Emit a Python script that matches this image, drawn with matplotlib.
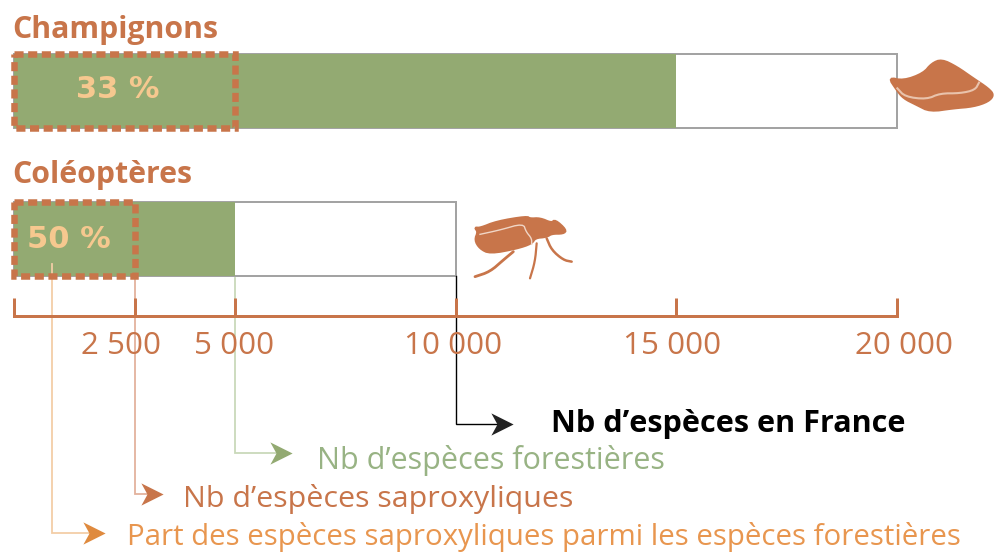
import matplotlib
matplotlib.use("Agg")
import matplotlib.pyplot as plt
from matplotlib.patches import Rectangle, Polygon
from matplotlib.transforms import ScaledTranslation

# ---- data ----
categories = ["Champignons", "Coléoptères"]
total_species = [20000, 10000]
forest_species = [15000, 5000]
saprox_species = [5000, 2740]      # as positioned in the picture
percent_labels = ["33 %", "50 %"]
percent_x = [2355, 1250]
tick_values = [0, 2740, 5000, 10000, 15000, 20000]
tick_labels = ["", "2 500", "5 000", "10 000", "15 000", "20 000"]
tick_label_shift = [0, -14, -1, -2, -4, 7]
part_x = 860
legend_texts = ["Nb d’espèces en France", "Nb d’espèces forestières",
                "Nb d’espèces saproxyliques",
                "Part des espèces saproxyliques parmi les espèces forestières"]

mushroom = [(85,112),(130,122),(190,100),(215,70),(245,58),(290,80),(340,115),(385,145),(402,165),
            (385,185),(340,200),(280,205),(210,215),(170,195),(130,175),(110,150)]
mushroom_vein = [(112,145),(135,170),(200,178),(240,160),(300,160),(345,150),(357,128)]
beetle = [(105,98),(120,100),(170,80),(260,65),(270,72),(300,70),(335,85),(345,75),(378,105),(370,115),(335,115),
          (320,125),(285,128),(275,145),(230,160),(150,175),(120,160),(105,135),(115,110)]
beetle_veins = [[(120,118),(180,105),(250,85),(258,110),(275,130),(275,148)]]
beetle_legs = [[(220,170),(190,195),(150,230),(105,245)],
               [(290,145),(285,200),(270,250)],
               [(320,130),(335,165),(370,195),(395,200)]]

# ---- colours ----
BROWN = "#C8754A"
GREEN = "#93AA72"
GREY = "#A3A3A3"
PEACH = "#F6C88F"

W, H = 994, 552
fig = plt.figure(figsize=(W / 100, H / 100), dpi=100, facecolor="white")
ax = fig.add_axes([0, 0, 1, 1], facecolor="none")
scale = 883 / 20000
ax.set_xlim(-14 / scale, (W - 14) / scale)
ax.set_ylim(H, 0)
for s in ["top", "left", "right"]:
    ax.spines[s].set_visible(False)
ax.yaxis.set_visible(False)
ax.set_axisbelow(False)

def X(px):
    return (px - 14) / scale

FONT = "Open Sans"
pt = 72 / 100

# axis
ax.spines["bottom"].set_position(("data", 316))
ax.spines["bottom"].set_bounds(0, 20000)
ax.spines["bottom"].set_color(BROWN)
ax.spines["bottom"].set_linewidth(3 * pt)
ax.set_xticks(tick_values)
ax.set_xticklabels(tick_labels, fontfamily=FONT, fontsize=22.6, color=BROWN)
ax.tick_params(axis="x", direction="in", length=18 * pt, width=3 * pt, color=BROWN, pad=11)
for lab, dx in zip(ax.get_xticklabels(), tick_label_shift):
    lab.set_transform(lab.get_transform() + ScaledTranslation(dx / 100, 0, fig.dpi_scale_trans))

# bars
tops = [54, 202]
title_y = [30, 175]
pct_y = [90, 239]
h = 74
for i, cat in enumerate(categories):
    y = tops[i]
    ax.add_patch(Rectangle((0, y), total_species[i], h, fc="white", ec=GREY, lw=2 * pt, zorder=1))
    ax.add_patch(Rectangle((0, y), forest_species[i], h, fc=GREEN, ec="none", zorder=1.1))
    ax.add_patch(Rectangle((0, y), saprox_species[i], h, fc="none", ec=BROWN, lw=6.5 * pt,
                           linestyle=(0, (1.4, 0.7)), zorder=5))
    ax.text(X(12), title_y[i], cat, family=FONT, weight="bold", fontsize=21.8, color=BROWN, va="center", ha="left")
    ax.text(percent_x[i], pct_y[i], percent_labels[i], family="DejaVu Sans", weight="bold", fontsize=22,
            color=PEACH, va="center", ha="center", zorder=6)

# leader lines
stealth = [(-1, 1), (1, 0), (-1, -1), (-0.45, 0), (-1, 1)]
leaders = [
    (total_species[1], 276, 424, 510, "black", "#222222", "black", 551, 424, "bold", 22.1),
    (forest_species[1], 278, 453, 289, "#C9D9B9", GREEN, "#98B384", 317, 460, "normal", 22),
    (saprox_species[1], 278, 494, 160, "#E3B29C", BROWN, BROWN, 183, 499, "normal", 21.9),
    (part_x, 264, 533, 102, "#F3CDA6", "#DF8A3E", "#E8964F", 127, 537, "normal", 21.2),
]
for txt, (xv, y0, y1, xend, lc, hc, tc, tx, ty, w, fs) in zip(legend_texts, leaders):
    ax.plot([xv, xv, X(xend - 6)], [y0, y1, y1], color=lc, lw=1.8 * pt if lc != "black" else 1.0,
            zorder=1.5, solid_joinstyle="miter")
    ax.plot([X(xend - 8)], [y1], marker=stealth, color=hc, ms=16, mew=0, ls="none", zorder=4)
    ax.text(X(tx), ty, txt, family=FONT, weight=w, fontsize=fs, color=tc, ha="left", va="center")

# icons (reference-zoom coordinates mapped to figure pixels)
def chaikin(points, closed=False, rounds=2):
    pts = list(points)
    for _ in range(rounds):
        out = [pts[0]] if not closed else []
        n = len(pts)
        for j in range(n if closed else n - 1):
            a, b = pts[j], pts[(j + 1) % n]
            out.append((0.75 * a[0] + 0.25 * b[0], 0.75 * a[1] + 0.25 * b[1]))
            out.append((0.25 * a[0] + 0.75 * b[0], 0.25 * a[1] + 0.75 * b[1]))
        if not closed:
            out.append(pts[-1])
        pts = out
    return pts

def icon(points, ox, oy, closed=False):
    return [(X(ox + a / 3), oy + b / 3) for a, b in chaikin(points, closed)]

ax.add_patch(Polygon(icon(mushroom, 860, 40, True), closed=True, fc=BROWN, ec=BROWN, lw=1.5, zorder=6))
ax.plot(*zip(*icon(mushroom_vein, 860, 40)), color="#E9C3AC", lw=1.5, zorder=7)
ax.add_patch(Polygon(icon(beetle, 440, 195, True), closed=True, fc=BROWN, ec=BROWN, lw=2, zorder=6))
for v in beetle_veins:
    ax.plot(*zip(*icon(v, 440, 195)), color="#F0D6C6", lw=1, zorder=7)
for lw, leg in zip([2, 1.6, 1.8], beetle_legs):
    ax.plot(*zip(*icon(leg, 440, 195)), color=BROWN, lw=lw, zorder=6, solid_capstyle="round")

fig.savefig("out.png", dpi=100)
